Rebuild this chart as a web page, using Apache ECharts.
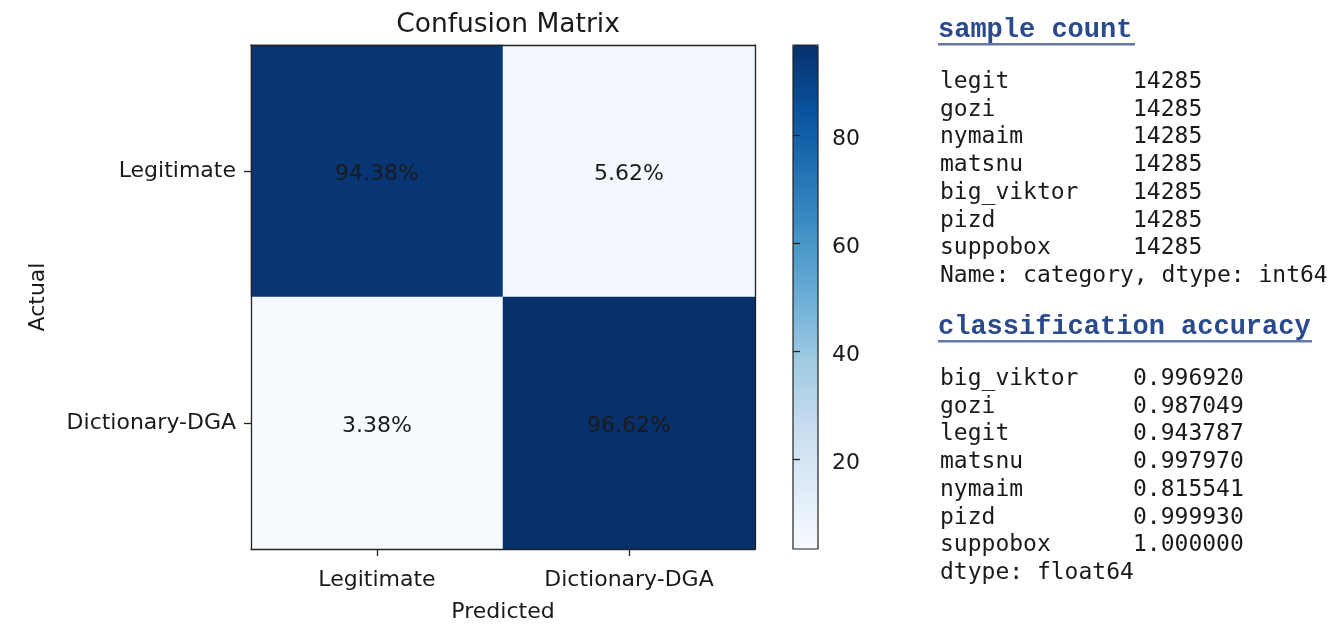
<!DOCTYPE html>
<html>
<head>
<meta charset="utf-8">
<script src="https://cdn.jsdelivr.net/npm/echarts@6/dist/echarts.min.js"></script>
<style>
  html, body { margin: 0; padding: 0; background: #ffffff; }
  #chart { width: 1340px; height: 630px; }
</style>
</head>
<body>
<div id="chart"></div>
<script>
// ---- data ----
const predictedLabels = ['Legitimate', 'Dictionary-DGA'];
const actualLabels = ['Legitimate', 'Dictionary-DGA'];
// rows = actual, columns = predicted (percent)
const rowLegitimate = [94.38, 5.62];
const rowDictionaryDGA = [3.38, 96.62];
const colorbarTicks = [20, 40, 60, 80];

const countTitle = 'sample count';
const countNames = ['legit', 'gozi', 'nymaim', 'matsnu', 'big_viktor', 'pizd', 'suppobox'];
const countValues = [14285, 14285, 14285, 14285, 14285, 14285, 14285];
const countFooter = 'Name: category, dtype: int64';

const accTitle = 'classification accuracy';
const accNames = ['big_viktor', 'gozi', 'legit', 'matsnu', 'nymaim', 'pizd', 'suppobox'];
const accValues = [0.996920, 0.987049, 0.943787, 0.997970, 0.815541, 0.999930, 1.000000];
const accFooter = 'dtype: float64';

// ---- build ----
const rows = [rowLegitimate, rowDictionaryDGA];
const heatData = [];
rows.forEach((r, yi) => r.forEach((v, xi) => heatData.push([xi, yi, v])));
const allVals = heatData.map(d => d[2]);
const vMin = Math.min(...allVals), vMax = Math.max(...allVals);

const blues = ['#f7fbff', '#deebf7', '#c6dbef', '#9ecae1', '#6baed6', '#4292c6', '#2171b5', '#08519c', '#08306b'];
const sans = 'DejaVu Sans';
const mono = 'DejaVu Sans Mono';
const txt = '#1a1a1a';

const graphics = [];
function block(title, titleY, underlineW, names, values, footer, startY) {
  graphics.push({
    type: 'text', x: 938, y: titleY,
    style: { text: title, font: 'bold 27px "Liberation Mono"', fill: '#2a4a8e', verticalAlign: 'middle', lineHeight: 34 }
  });
  graphics.push({
    type: 'rect', shape: { x: 938, y: titleY + 13, width: underlineW, height: 2.5 },
    style: { fill: '#6477a8' }
  });
  const step = 27.7;
  const font = '23px "' + mono + '"';
  names.forEach((n, i) => {
    const y = Math.round(startY + i * step);
    graphics.push({ type: 'text', x: 940, y: y,
      style: { text: n, font: font, fill: txt, verticalAlign: 'middle', lineHeight: 34 } });
    graphics.push({ type: 'text', x: 1133, y: y,
      style: { text: String(values[i]), font: font, fill: txt, verticalAlign: 'middle', lineHeight: 34 } });
  });
  graphics.push({ type: 'text', x: 940, y: Math.round(startY + names.length * step),
    style: { text: footer, font: font, fill: txt, verticalAlign: 'middle', lineHeight: 34 } });
}
block(countTitle, 30, 197, countNames, countValues, countFooter, 82);
block(accTitle, 327, 374, accNames, accValues.map(v => v.toFixed(6)), accFooter, 379);

const chart = echarts.init(document.getElementById('chart'), null, { renderer: 'canvas' });
chart.setOption({
  backgroundColor: '#ffffff',
  animation: false,
  title: {
    text: 'Confusion Matrix', left: 503, top: 7, textAlign: 'center',
    textStyle: { fontFamily: sans, fontSize: 26.5, fontWeight: 'normal', color: txt }
  },
  grid: [
    { left: 251, top: 45, width: 504, height: 504, show: false },
    { left: 793, top: 45, width: 25, height: 504, show: true, borderColor: '#222', borderWidth: 1.2, backgroundColor: 'transparent', z: 5 }
  ],
  xAxis: [
    {
      type: 'category', data: predictedLabels, gridIndex: 0, z: 5,
      name: 'Predicted', nameLocation: 'middle', nameGap: 52,
      nameTextStyle: { fontFamily: sans, fontSize: 22, color: txt },
      axisLine: { show: true, lineStyle: { color: '#222', width: 1.3 } },
      axisTick: { show: true, alignWithLabel: true, length: 7, lineStyle: { color: '#222', width: 1.3 } },
      axisLabel: { fontFamily: sans, fontSize: 22, color: txt, margin: 20 },
      splitLine: { show: false }
    },
    {
      type: 'category', data: predictedLabels, gridIndex: 0, position: 'top', z: 5,
      axisLine: { show: true, lineStyle: { color: '#222', width: 1.3 } },
      axisTick: { show: false }, axisLabel: { show: false }
    },
    { type: 'value', gridIndex: 1, show: false }
  ],
  yAxis: [
    {
      type: 'category', data: actualLabels, gridIndex: 0, inverse: true, z: 5,
      name: 'Actual', nameLocation: 'middle', nameGap: 202,
      nameTextStyle: { fontFamily: sans, fontSize: 22, color: txt },
      axisLine: { show: true, lineStyle: { color: '#222', width: 1.3 } },
      axisTick: { show: true, alignWithLabel: true, length: 7, lineStyle: { color: '#222', width: 1.3 } },
      axisLabel: { fontFamily: sans, fontSize: 22, color: txt, margin: 15, padding: [7, 0, 0, 0] },
      splitLine: { show: false }
    },
    {
      type: 'category', data: actualLabels, gridIndex: 0, inverse: true, position: 'right', z: 5,
      axisLine: { show: true, lineStyle: { color: '#222', width: 1.3 } },
      axisTick: { show: false }, axisLabel: { show: false }
    },
    {
      type: 'value', gridIndex: 1, position: 'right', min: vMin, max: vMax, z: 5,
      axisLine: { show: false },
      axisTick: { show: true, length: 7, customValues: colorbarTicks, lineStyle: { color: '#222', width: 1.3 } },
      axisLabel: {
        color: txt, margin: 14, customValues: colorbarTicks,
        formatter: v => '{a|' + v + '}',
        rich: { a: { fontFamily: sans, fontSize: 22, color: txt, padding: [8, 0, 0, 0] } }
      },
      splitLine: { show: false }
    }
  ],
  visualMap: {
    type: 'continuous', min: vMin, max: vMax, seriesIndex: 0,
    calculable: false, realtime: false, orient: 'vertical',
    left: 793, top: 45, itemWidth: 25, itemHeight: 504, padding: 0,
    text: ['', ''], showLabel: false, textGap: 0,
    inRange: { color: blues },
    hoverLink: false
  },
  series: [{
    type: 'heatmap', xAxisIndex: 0, yAxisIndex: 0, data: heatData,
    label: {
      show: true, fontFamily: sans, fontSize: 22, color: txt, offset: [0, 3],
      formatter: p => p.value[2].toFixed(2) + '%'
    },
    itemStyle: { borderWidth: 0 },
    emphasis: { disabled: true }
  }],
  graphic: graphics
});
</script>
</body>
</html>
